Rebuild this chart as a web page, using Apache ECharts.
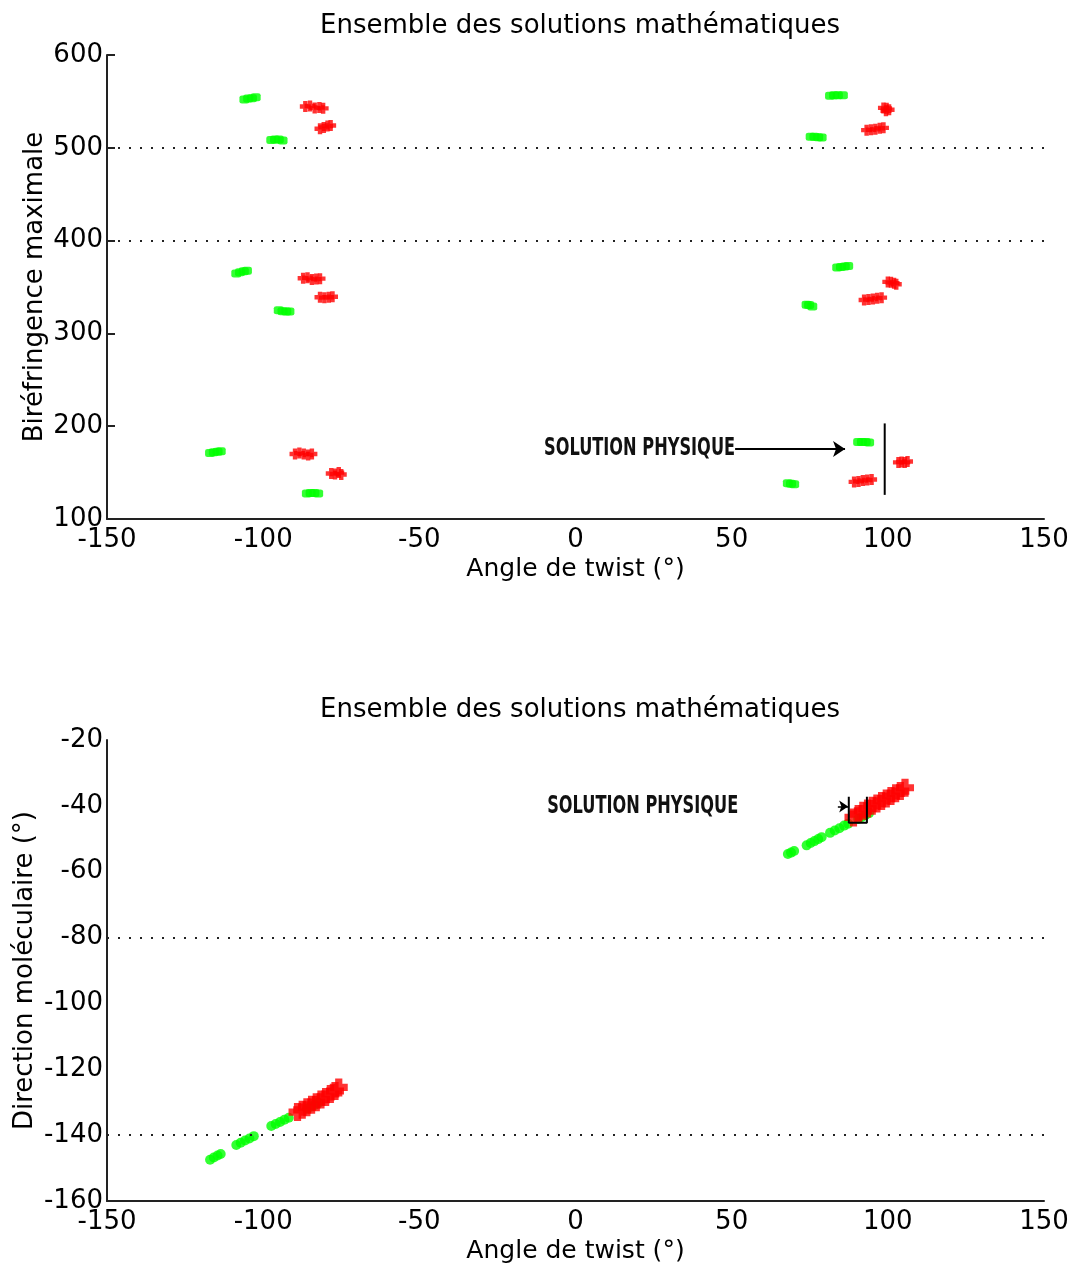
<!DOCTYPE html>
<html><head><meta charset="utf-8">
<script src="https://cdn.jsdelivr.net/npm/echarts@6/dist/echarts.min.js"></script>
<style>html,body{margin:0;padding:0;background:#fff}#c{width:1076px;height:1265px}</style>
</head><body><div id="c"></div>
<script>
// ---- texts ----
const titleText = 'Ensemble des solutions mathématiques';
const xName = 'Angle de twist (°)';
const topYName = 'Biréfringence maximale';
const botYName = 'Direction moléculaire (°)';
const annotText = 'SOLUTION PHYSIQUE';

// ---- axis ticks ----
const xTicks = [-150, -100, -50, 0, 50, 100, 150];
const topYTicks = [100, 200, 300, 400, 500, 600];
const botYTicks = [-160, -140, -120, -100, -80, -60, -40, -20];

// ---- dotted reference levels ----
const topRefLines = [500, 400];
const botRefLines = [-80, -140];

// ---- top chart: twist angle vs max birefringence ----
const greenTop = [
  [-106,552],[-104.8,553],[-103.6,553.5],[-102.4,554.5],
  [-97.4,508.5],[-96.2,509],[-95,509],[-93.8,508],
  [-108.6,364.5],[-107.4,366],[-106.2,367],[-105.2,367.5],
  [-95,325],[-93.8,324],[-92.6,323.5],[-91.6,323.5],
  [-117,171],[-115.8,172],[-114.6,172.5],[-113.6,173],
  [-86,127.5],[-84.8,128],[-83.6,128],[-82.4,127.5],
  [81.5,556],[82.8,556.5],[84,556.5],[85.6,556.5],
  [75.3,512],[76.5,512],[77.7,511.5],[78.8,511],
  [83.8,371],[85,371.5],[86.2,372],[87.3,372.5],
  [74,331],[74.8,330.5],[75.8,329],
  [90.5,183],[91.7,183],[92.9,183],[94,182.5],
  [68,138.5],[69,138],[70,137.5]
];
const redTop = [
  [-86.5,544.5],[-85,545],[-83.5,543],[-82,543.5],[-80.8,542.5],
  [-81.8,520.5],[-80.6,522],[-79.4,523.5],[-78.4,524],
  [-87.2,359.5],[-85.8,360],[-84.4,358],[-83,358.5],[-81.8,359],
  [-81.8,339],[-80.4,338.5],[-79,339],[-77.8,339.5],
  [-89.8,170],[-88.4,171],[-87,170],[-85.6,169],[-84.4,170],
  [-78.2,149],[-77,148.5],[-75.8,150],[-75,148],
  [98.6,543],[99.6,542.5],[100.4,541],[99.4,540],
  [93.2,519],[94.6,519.5],[96,520],[97.4,521],[98.6,521.5],
  [100,355.5],[101,355],[102,354],[102.7,353],
  [92.4,336],[93.8,336.5],[95.2,337],[96.6,338],[98,338.5],
  [103.4,161],[104.4,161.5],[105.4,161],[106.3,162],
  [89.2,140],[90.6,140.5],[92,141.5],[93.4,142],[94.8,142.5]
];

// ---- bottom chart: twist angle vs molecular direction ----
const greenBot = [
  [-117,-147.5],[-115.8,-146.8],[-114.6,-146.2],[-113.6,-145.7],
  [-108.6,-143],[-107.2,-142.3],[-105.8,-141.6],[-104.4,-141],[-103,-140.3],
  [-97.4,-137.2],[-96,-136.6],[-94.6,-136],[-93.2,-135.3],[-91.8,-134.7],
  [-86,-132],[-84.8,-131.4],[-83.6,-130.8],[-82.4,-130.2],
  [68,-54.6],[69,-54.2],[70,-53.7],
  [74,-52],[75.3,-51.3],[76.5,-50.7],[77.7,-50.1],[78.8,-49.5],
  [81.5,-48.2],[83,-47.5],[84.5,-46.8],[86,-46],[87.3,-45.4],
  [90.5,-44],[91.7,-43.4],[92.9,-42.8],[94,-42.2]
];
const redBot = [
  [-89,-133],[-87.5,-132.3],[-86,-131.5],[-84.5,-130.8],[-83,-130],
  [-81.5,-129.2],[-80,-128.4],[-78.5,-127.5],[-77,-126.6],[-75.8,-125.5],
  [89,-43.5],[90.5,-42.5],[92,-41.5],[93.5,-40.8],[95,-40],[96.5,-39.3],
  [98,-38.5],[99.5,-37.8],[101,-37],[102.5,-36.2],[104,-35.5],[105.5,-34.5]
];

// ---- annotation geometry (data coordinates) ----
const topMarkerLine = [[99,126],[99,203]];
const topArrow = [[51.1,175.4],[86.3,175.4]];
const topTextAnchor = [51.1,175.4];
const botBox = [[87.5,-37.2],[87.5,-45.1],[93.3,-45.1],[93.3,-37.2]];
const botArrow = [[84,-40.2],[87.3,-40.2]];
const botTextAnchor = [52.1,-40.3];

const FONT = 'DejaVu Sans';
const plus = 'path://M3,0H7V3H10V7H7V10H3V7H0V3H3Z';

function xAxis(gi) {
  return {
    type: 'value', gridIndex: gi, min: xTicks[0], max: xTicks[xTicks.length-1], interval: 50,
    name: xName, nameLocation: 'middle', nameGap: 38, nameMoveOverlap: false,
    nameTextStyle: {fontFamily: FONT, fontSize: 25, color: '#000'},
    axisLine: {show: true, onZero: false, lineStyle: {color: '#222', width: 2}},
    axisTick: {show: false},
    axisLabel: {fontFamily: FONT, fontSize: 26, color: '#000', margin: 8},
    splitLine: {show: false}
  };
}
function yAxis(gi, ticks, name, gap, showTick) {
  return {
    type: 'value', gridIndex: gi, min: ticks[0], max: ticks[ticks.length-1],
    interval: ticks[1]-ticks[0],
    name: name, nameLocation: 'middle', nameGap: gap, nameMoveOverlap: false,
    nameTextStyle: {fontFamily: FONT, fontSize: 26, color: '#000'},
    axisLine: {show: true, onZero: false, lineStyle: {color: '#222', width: 2}},
    axisTick: {show: showTick, inside: true, length: 8, lineStyle: {color: '#222', width: 2}},
    axisLabel: {fontFamily: FONT, fontSize: 26, color: '#000', margin: 4},
    splitLine: {show: false}
  };
}
function refLines(vals) {
  return {
    silent: true, symbol: 'none', label: {show: false},
    lineStyle: {color: '#222', width: 2, type: [2, 9]},
    data: vals.map(v => ({yAxis: v}))
  };
}

const chart = echarts.init(document.getElementById('c'), null, {renderer: 'canvas'});
chart.setOption({
  animation: false,
  backgroundColor: '#fff',
  title: [
    {text: titleText, left: 575, top: 8, textAlign: 'center',
     textStyle: {fontFamily: FONT, fontSize: 26, fontWeight: 'normal', color: '#000'}},
    {text: titleText, left: 575, top: 692, textAlign: 'center',
     textStyle: {fontFamily: FONT, fontSize: 26, fontWeight: 'normal', color: '#000'}}
  ],
  grid: [
    {left: 107, right: 32, top: 55, height: 464},
    {left: 107, right: 32, top: 740, height: 463}
  ],
  xAxis: [xAxis(0), xAxis(1)],
  yAxis: [yAxis(0, topYTicks, topYName, 59, true), yAxis(1, botYTicks, botYName, 69, false)],
  series: [
    {type: 'line', xAxisIndex: 0, yAxisIndex: 0, data: [], markLine: refLines(topRefLines)},
    {type: 'line', xAxisIndex: 1, yAxisIndex: 1, data: [], markLine: refLines(botRefLines)},
    {type: 'scatter', xAxisIndex: 0, yAxisIndex: 0, data: greenTop, symbol: 'roundRect', symbolSize: [10, 8],
     itemStyle: {color: '#00ff00'}},
    {type: 'scatter', xAxisIndex: 0, yAxisIndex: 0, data: redTop, symbol: plus, symbolSize: 11,
     itemStyle: {color: '#ff0000'}},
    {type: 'scatter', xAxisIndex: 1, yAxisIndex: 1, data: greenBot, symbol: 'circle', symbolSize: 10,
     itemStyle: {color: '#00ff00'}},
    {type: 'scatter', xAxisIndex: 1, yAxisIndex: 1, data: redBot, symbol: plus, symbolSize: 18,
     itemStyle: {color: '#ff0000'}},
    {type: 'line', xAxisIndex: 0, yAxisIndex: 0, data: topMarkerLine, symbol: 'none',
     lineStyle: {color: '#000', width: 2}},
    {type: 'line', xAxisIndex: 0, yAxisIndex: 0, data: [], symbol: 'none',
     markLine: {silent: true, symbol: ['none', 'arrow'], symbolSize: 12, label: {show: false},
       lineStyle: {color: '#000', width: 2, type: 'solid'},
       data: [[{coord: topArrow[0]}, {coord: topArrow[1]}]]}},
    {type: 'line', xAxisIndex: 1, yAxisIndex: 1, data: botBox, symbol: 'none',
     lineStyle: {color: '#000', width: 2}},
    {type: 'line', xAxisIndex: 1, yAxisIndex: 1, data: [], symbol: 'none',
     markLine: {silent: true, symbol: ['none', 'arrow'], symbolSize: 9, label: {show: false},
       lineStyle: {color: '#000', width: 1.5, type: 'solid'},
       data: [[{coord: botArrow[0]}, {coord: botArrow[1]}]]}}
  ]
});

const p1 = chart.convertToPixel({xAxisIndex: 0, yAxisIndex: 0}, topTextAnchor);
const p2 = chart.convertToPixel({xAxisIndex: 1, yAxisIndex: 1}, botTextAnchor);
function annot(p) {
  return {type: 'text', x: p[0], y: p[1], scaleY: 1.35, z: 100,
    style: {text: annotText, fontFamily: 'DejaVu Sans Condensed', fontSize: 18, fontWeight: 'bold',
      fill: '#111', align: 'right', verticalAlign: 'middle'}};
}
chart.setOption({graphic: [annot(p1), annot(p2)]});
</script></body></html>
